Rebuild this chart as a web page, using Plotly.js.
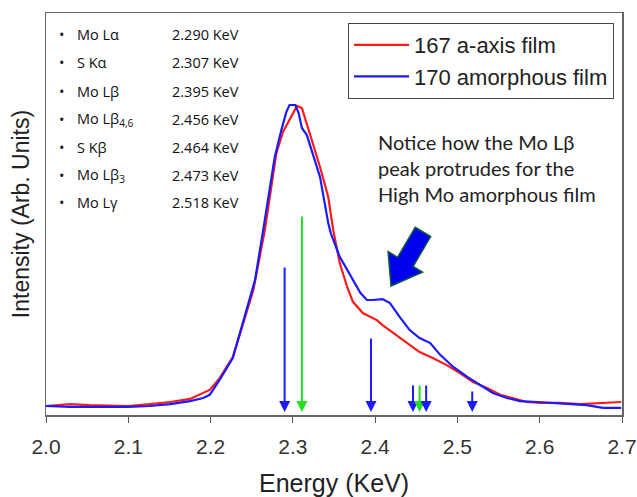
<!DOCTYPE html>
<html>
<head>
<meta charset="utf-8">
<script src="https://cdn.plot.ly/plotly-3.0.1.min.js"></script>
<style>html,body{margin:0;padding:0;background:#fff;}#chart{width:637px;height:497px;}</style>
</head>
<body>
<div id="chart"></div>
<script>
// ---- data ----
const energyA = [2.000,2.017,2.029,2.053,2.078,2.100,2.126,2.151,2.175,2.191,2.199,2.211,2.227,2.239,2.252,2.266,2.280,2.288,2.296,2.305,2.311,2.317,2.323,2.333,2.343,2.349,2.357,2.366,2.373,2.385,2.402,2.409,2.422,2.439,2.454,2.470,2.487,2.503,2.519,2.536,2.552,2.567,2.584,2.600,2.625,2.649,2.674,2.689,2.699];
const film167 = [0.029,0.032,0.035,0.032,0.031,0.029,0.035,0.042,0.052,0.071,0.081,0.119,0.187,0.290,0.403,0.597,0.845,0.913,0.952,0.997,0.990,0.942,0.887,0.800,0.703,0.597,0.490,0.413,0.365,0.329,0.306,0.290,0.265,0.232,0.203,0.184,0.161,0.135,0.106,0.087,0.065,0.055,0.042,0.039,0.039,0.035,0.039,0.042,0.042];
const energyB = [2.000,2.029,2.066,2.100,2.126,2.151,2.175,2.191,2.199,2.211,2.227,2.239,2.248,2.254,2.264,2.278,2.286,2.292,2.296,2.303,2.307,2.311,2.317,2.324,2.333,2.343,2.346,2.357,2.366,2.373,2.382,2.390,2.397,2.409,2.418,2.430,2.442,2.454,2.467,2.479,2.495,2.512,2.527,2.543,2.560,2.576,2.597,2.616,2.637,2.657,2.677,2.699];
const film170 = [0.029,0.026,0.026,0.026,0.029,0.035,0.045,0.055,0.065,0.113,0.184,0.297,0.381,0.435,0.597,0.832,0.919,0.977,1.000,1.000,0.974,0.926,0.903,0.845,0.768,0.619,0.587,0.510,0.468,0.435,0.394,0.371,0.371,0.374,0.361,0.316,0.274,0.248,0.232,0.194,0.155,0.123,0.097,0.071,0.055,0.045,0.042,0.039,0.035,0.032,0.023,0.023];
const seriesNames = ["167 a-axis film", "170 amorphous film"];

const lineNames = ["Mo L&#945;", "S K&#945;", "Mo L&#946;", "Mo L&#946;<sub>4,6</sub>", "S K&#946;", "Mo L&#946;<sub>3</sub>", "Mo L&#947;"];
const lineEnergies = ["2.290 KeV", "2.307 KeV", "2.395 KeV", "2.456 KeV", "2.464 KeV", "2.473 KeV", "2.518 KeV"];

// marker arrows (as drawn in the figure)
const arrowE   = [2.290, 2.311, 2.395, 2.446, 2.454, 2.462, 2.518];
const arrowTop = [0.481, 0.645, 0.252, 0.100, 0.100, 0.100, 0.081];
const arrowTip = 0.010;
const arrowKind = ["Mo", "S", "Mo", "Mo", "S", "Mo", "Mo"];

const xTicks = [2.0, 2.1, 2.2, 2.3, 2.4, 2.5, 2.6, 2.7];
const noteText = "Notice how the Mo L&#946;<br>peak protrudes for the<br>High Mo amorphous film";

// ---- layout helpers ----
const W = 637, H = 497;
const M = {l: 46, r: 15, t: 13, b: 82};
const pw = W - M.l - M.r, ph = H - M.t - M.b;
const px = x => (x - M.l) / pw;
const py = y => (H - M.b - y) / ph;

const kindColor = {Mo: "#1a1aff", S: "#22dd22"};
const annotations = [];

arrowE.forEach((e, i) => {
  annotations.push({
    x: e, y: arrowTip, xref: "x", yref: "y",
    ax: e, ay: arrowTop[i], axref: "x", ayref: "y",
    showarrow: true, arrowhead: 2, arrowsize: 1.1, arrowwidth: 2,
    arrowcolor: kindColor[arrowKind[i]], text: ""
  });
});

const rowY0 = 35, rowDy = 28;
const tableFont = {family: "Open Sans, Noto Sans, sans-serif", size: 14.5, color: "#111"};
lineNames.forEach((n, i) => {
  const yy = py(rowY0 + i * rowDy);
  annotations.push({x: px(57), y: yy, xref: "paper", yref: "paper", text: "&#8226;", showarrow: false, xanchor: "left", yanchor: "middle", font: tableFont});
  annotations.push({x: px(75), y: yy, xref: "paper", yref: "paper", text: n, showarrow: false, xanchor: "left", yanchor: "middle", font: tableFont});
  annotations.push({x: px(170), y: yy, xref: "paper", yref: "paper", text: lineEnergies[i], showarrow: false, xanchor: "left", yanchor: "middle", font: tableFont});
});

annotations.push({
  x: px(376), y: py(128), xref: "paper", yref: "paper", text: noteText,
  showarrow: false, xanchor: "left", yanchor: "top", align: "left",
  font: {family: "Lato, Open Sans, sans-serif", size: 20, color: "#222"}
});

// big blue arrow (drawn as a shape in pixel-derived paper coords)
const arrowPoly = [[391,286],[422.5,272.1],[413.0,266.5],[430.7,236.6],[415.3,227.4],[397.6,257.3],[388.1,251.7]];
const path = arrowPoly.map((p, i) => (i ? "L" : "M") + px(p[0]).toFixed(4) + "," + py(p[1]).toFixed(4)).join(" ") + " Z";

const traces = [
  {x: energyA, y: film167, name: seriesNames[0], type: "scatter", mode: "lines", line: {color: "#ff1a1a", width: 2.2}},
  {x: energyB, y: film170, name: seriesNames[1], type: "scatter", mode: "lines", line: {color: "#1a1aff", width: 2.2}}
];

const layout = {
  width: W, height: H,
  margin: M,
  paper_bgcolor: "#fff", plot_bgcolor: "#fff",
  showlegend: true,
  legend: {
    x: px(348), y: py(23), xanchor: "left", yanchor: "top",
    bordercolor: "#444", borderwidth: 1, bgcolor: "#fff",
    font: {family: "Liberation Sans, Arial, sans-serif", size: 22, color: "#222"},
    tracegroupgap: 0, itemwidth: 55
  },
  xaxis: {
    range: [2.0, 2.7], tickvals: xTicks, ticktext: xTicks.map(v => v.toFixed(1)),
    ticks: "outside", ticklen: 6, tickcolor: "#555", tickwidth: 1,
    showline: true, linecolor: "#666", linewidth: 1.5, mirror: true,
    showgrid: false, zeroline: false, ticklabelstandoff: 6,
    tickfont: {family: "Liberation Sans, Arial, sans-serif", size: 21, color: "#333"},
    title: {text: "Energy (KeV)", font: {family: "Liberation Sans, Arial, sans-serif", size: 25, color: "#222"}, standoff: 21}
  },
  yaxis: {
    range: [0, ph / 310], showticklabels: false, ticks: "",
    showline: true, linecolor: "#666", linewidth: 1.5, mirror: true,
    showgrid: false, zeroline: false,
    title: {text: "Intensity (Arb. Units)", font: {family: "Liberation Sans, Arial, sans-serif", size: 23, color: "#222"}, standoff: 8}
  },
  annotations: annotations,
  shapes: [{type: "path", xref: "paper", yref: "paper", path: path, fillcolor: "#0000ee", line: {color: "#0b5a3a", width: 1.5}}]
};

Plotly.newPlot("chart", traces, layout, {displayModeBar: false, staticPlot: true});
</script>
</body>
</html>
